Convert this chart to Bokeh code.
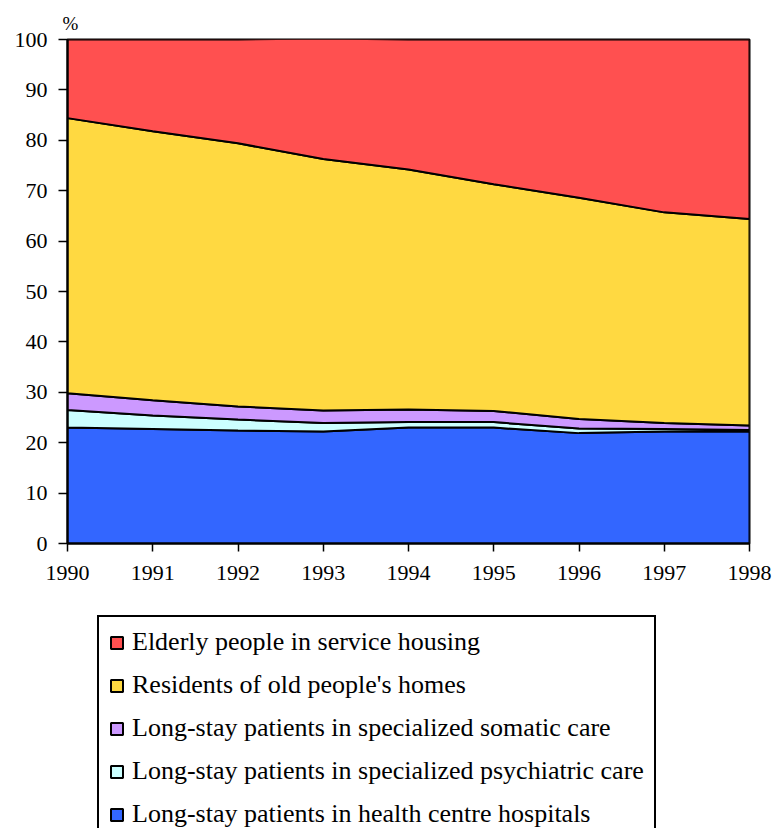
from bokeh.plotting import figure
from bokeh.layouts import column
from bokeh.models import Legend, LegendItem, Title, FixedTicker, Range1d
from bokeh.embed import file_html
from bokeh.resources import INLINE
import numpy as np

# Share of elderly people in care, by form of care (%)
years = [1990, 1991, 1992, 1993, 1994, 1995, 1996, 1997, 1998]
health_centre = [23.0, 22.7, 22.4, 22.2, 23.0, 23.0, 21.9, 22.2, 22.2]
psychiatric = [3.5, 2.7, 2.2, 1.7, 1.1, 1.1, 0.9, 0.5, 0.3]
somatic = [3.3, 3.0, 2.6, 2.5, 2.5, 2.2, 1.9, 1.2, 0.9]
old_peoples_homes = [54.6, 53.4, 52.2, 49.9, 47.6, 45.0, 43.9, 41.8, 41.0]
service_housing = [15.6, 18.2, 20.6, 23.9, 25.8, 28.7, 31.4, 34.3, 35.6]

series = [
    ("Long-stay patients in health centre hospitals", health_centre, "#3366FF"),
    ("Long-stay patients in specialized psychiatric care", psychiatric, "#CCFFFF"),
    ("Long-stay patients in specialized somatic care", somatic, "#CC99FF"),
    ("Residents of old people's homes", old_peoples_homes, "#FFD941"),
    ("Elderly people in service housing", service_housing, "#FF5050"),
]

FONT = "Liberation Serif"

p = figure(width=772, height=600, output_backend="svg", toolbar_location=None,
           x_range=(1990, 1998), y_range=(0, 100),
           min_border_left=67, min_border_right=23, min_border_top=39,
           min_border_bottom=57)

# legend panel under the chart
lg = figure(width=772, height=228, output_backend="svg", toolbar_location=None,
            x_axis_location=None, y_axis_location=None,
            x_range=Range1d(1990, 1998), y_range=Range1d(0, 100),
            min_border_left=0, min_border_right=0, min_border_top=0, min_border_bottom=0)
lg.grid.visible = False
lg.outline_line_color = None

# stacked bands drawn as closed patches with black edges;
# hidden copies in the legend panel supply the swatches
bottom = np.zeros(len(years))
swatches = {}
for name, vals, color in series:
    top = bottom + np.array(vals)
    xs = list(years) + list(years[::-1])
    ys = list(top) + list(bottom[::-1])
    p.patch(xs, ys, fill_color=color, line_color="black", line_width=2)
    swatches[name] = lg.patch(xs, ys, fill_color=color, line_color="black",
                              line_width=2, visible=False)
    bottom = top

p.grid.visible = False
p.outline_line_color = "black"
p.outline_line_width = 2
p.background_fill_color = "white"

# axes
for ax in (p.xaxis[0], p.yaxis[0]):
    ax.axis_line_color = "black"
    ax.axis_line_width = 2
    ax.major_tick_line_color = "black"
    ax.major_tick_line_width = 1.5
    ax.major_tick_in = 0
    ax.minor_tick_line_color = None
    ax.major_label_text_font = FONT
    ax.major_label_text_font_size = "22px"
    ax.major_label_text_color = "black"

p.xaxis.ticker = FixedTicker(ticks=years)
p.xaxis.major_tick_out = 8
p.xaxis.major_label_standoff = 14
p.yaxis.ticker = FixedTicker(ticks=list(range(0, 101, 10)))
p.yaxis.major_tick_out = 9
p.yaxis.major_label_standoff = 11

# unit marker above the value axis
p.add_layout(Title(text="%", align="left", offset=-5, standoff=11,
                   text_font=FONT, text_font_size="19px", text_font_style="normal",
                   text_color="black"), "above")

items = [LegendItem(label=name, renderers=[swatches[name]]) for name, _, _ in series[::-1]]
legend = Legend(items=items, location=(30, -13), orientation="vertical",
                label_text_font=FONT, label_text_font_size="26px", label_text_color="black",
                glyph_width=15, glyph_height=15, label_height=30, label_standoff=8,
                spacing=13, padding=10, margin=0,
                border_line_color="black", border_line_width=2, border_line_alpha=1,
                inactive_fill_alpha=0,
                background_fill_color="white", background_fill_alpha=1)
lg.add_layout(legend, "center")

open("out.html", "w").write(file_html(column(p, lg, spacing=0), INLINE))
